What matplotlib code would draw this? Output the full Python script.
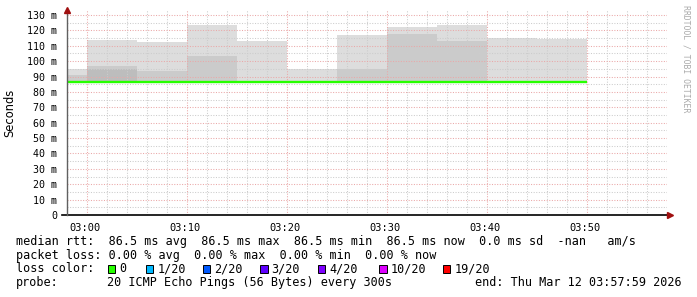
import matplotlib
matplotlib.use('Agg')
import matplotlib.pyplot as plt
import matplotlib.transforms as mtrans
from matplotlib.ticker import MultipleLocator, FuncFormatter
import numpy as np

# one step every 5 minutes, start of each step in minutes after midnight
step_start = [175, 180, 185, 190, 195, 200, 205, 210, 215, 220, 225]
smoke_bottom = [86.0, 86.0, 86.0, 86.0, 86.0, 86.0, 86.0, 86.0, 86.0, 86.0, 86.0]
smoke_light = [95.0, 113.8, 112.5, 123.7, 113.1, 95.0, 117.0, 122.4, 123.7, 115.3, 114.7]
smoke_mid = [91.0, 97.0, 93.8, 103.6, 86.0, 86.0, 95.0, 117.9, 113.1, 86.0, 86.0]
smoke_dark = [86.0, 95.0, 86.0, 86.0, 86.0, 86.0, 86.0, 86.0, 86.0, 86.0, 86.0]
median_rtt = [86.5, 86.5, 86.5, 86.5, 86.5, 86.5, 86.5, 86.5, 86.5, 86.5, 86.5]

loss_labels = ['0', '1/20', '2/20', '3/20', '4/20', '10/20', '19/20']
loss_colors = ['#26ff00', '#00b8ff', '#0059ff', '#5e00ff', '#7e00ff', '#dd00ff', '#ff0000']

W, H = 697, 297
fig = plt.figure(figsize=(W / 100, H / 100), dpi=100)
fig.patch.set_facecolor('white')

def px(x, y):
    return x / W, 1 - y / H

ax = fig.add_axes([66.7 / W, (H - 215) / H, 600 / W, 205 / H])

bottom = np.array(smoke_bottom)
for top, col in [(smoke_light, '#dddddd'), (smoke_mid, '#cbcbcb'), (smoke_dark, '#bdbdbd')]:
    ax.bar(step_start, np.array(top) - bottom, bottom=bottom, width=5, align='edge',
           color=col, linewidth=0, zorder=1)

ax.hlines(median_rtt, step_start, np.array(step_start) + 5, color='#26ff00',
          linewidth=1.7, zorder=4, capstyle='butt')

ax.set_xlim(178, 238)
ax.set_ylim(0, 133.25)

ax.xaxis.set_major_locator(MultipleLocator(10))
ax.xaxis.set_minor_locator(MultipleLocator(2))
ax.yaxis.set_major_locator(MultipleLocator(10))
ax.yaxis.set_minor_locator(MultipleLocator(5))
ax.xaxis.set_major_formatter(FuncFormatter(lambda v, _: f"{int(v) // 60:02d}:{int(v) % 60:02d}"))
ax.yaxis.set_major_formatter(FuncFormatter(lambda v, _: f"{int(round(v))} m" if v else "0"))

ax.set_axisbelow(False)
ax.grid(which='minor', color='#cccccc', linestyle=(0, (1, 1.5)), linewidth=0.75)
ax.grid(which='major', color='#eaa8a8', linestyle=(0, (1, 1.5)), linewidth=0.75)

for s in ax.spines.values():
    s.set_visible(False)
ax.tick_params(which='both', length=0)
ax.tick_params(axis='x', pad=6, labelsize=7.5)
ax.tick_params(axis='y', pad=7, labelsize=7.2)
shift = mtrans.ScaledTranslation(-2 / 100, 0, fig.dpi_scale_trans)
for lab in ax.get_xticklabels():
    lab.set_family('DejaVu Sans Mono')
    lab.set_transform(lab.get_transform() + shift)
for lab in ax.get_yticklabels():
    lab.set_family('DejaVu Sans Mono')

# axis lines with arrows
ax.plot([-0.008, 1.005], [0, 0], transform=ax.transAxes, color='black', lw=1.2,
        clip_on=False, zorder=5)
ax.plot([0, 0], [0, 1.0], transform=ax.transAxes, color='#606060', lw=1.0,
        clip_on=False, zorder=5)
ax.plot([1.006], [0], transform=ax.transAxes, marker='>', color='#a01010', ms=4,
        clip_on=False, zorder=6)
ax.plot([0], [1.0], transform=ax.transAxes, marker='^', color='#a01010', ms=4,
        clip_on=False, zorder=6)

fig.text(*px(10, 113), 'Seconds', rotation=90, ha='center', va='center',
         fontsize=8.3, family='DejaVu Sans')
fig.text(*px(686, 59), 'RRDTOOL / TOBI OETIKER', rotation=270, ha='center', va='center',
         fontsize=5.9, family='DejaVu Sans Mono', color='#aaaaaa')

mono = dict(fontsize=8.5, family='DejaVu Sans Mono', va='baseline', ha='left')
fig.text(*px(16, 245.5), 'median rtt:  86.5 ms avg  86.5 ms max  86.5 ms min  86.5 ms now  0.0 ms sd  -nan   am/s', **mono)
fig.text(*px(16, 259), 'packet loss: 0.00 % avg  0.00 % max  0.00 % min  0.00 % now', **mono)
fig.text(*px(16, 272.5), 'loss color:', **mono)
sq_x = [107.7, 145.7, 202.7, 260, 317.7, 379, 442.7]
for x, lab, col in zip(sq_x, loss_labels, loss_colors):
    fig.patches.append(plt.Rectangle(px(x, 272.5), 7.6 / W, 7.6 / H, transform=fig.transFigure,
                                     facecolor=col, edgecolor='black', linewidth=0.7))
    fig.text(*px(x + 11.5, 272.5), lab, **mono)
fig.text(*px(16, 286), 'probe:', **mono)
fig.text(*px(107, 286), '20 ICMP Echo Pings (56 Bytes) every 300s', **mono)
fig.text(*px(475, 286), 'end: Thu Mar 12 03:57:59 2026', **mono)

fig.savefig('out.png', dpi=100)
